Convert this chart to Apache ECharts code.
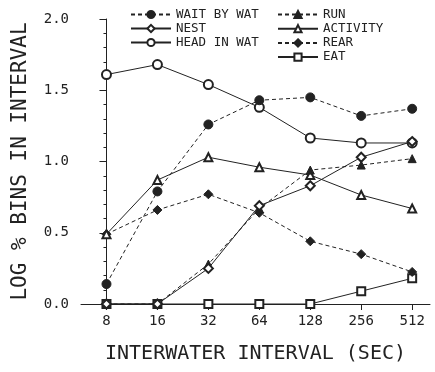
<!DOCTYPE html>
<html><head><meta charset="utf-8">
<script src="https://cdn.jsdelivr.net/npm/echarts@6/dist/echarts.min.js"></script>
<style>html,body{margin:0;padding:0;background:#fff}#c{width:435px;height:372px}</style>
</head><body><div id="c"></div>
<script>
var categories = ['8','16','32','64','128','256','512'];
var waitByWat = [0.14, 0.79, 1.26, 1.43, 1.45, 1.32, 1.37];
var nest      = [0.00, 0.00, 0.25, 0.69, 0.83, 1.03, 1.14];
var headInWat = [1.61, 1.68, 1.54, 1.38, 1.165, 1.13, 1.13];
var run       = [0.00, 0.00, 0.28, 0.67, 0.94, 0.975, 1.02];
var activity  = [0.49, 0.87, 1.03, 0.96, 0.905, 0.765, 0.67];
var rear      = [0.49, 0.66, 0.77, 0.64, 0.44, 0.35, 0.225];
var eat       = [0.00, 0.00, 0.00, 0.00, 0.00, 0.09, 0.18];
var yTicks = [0, 0.5, 1.0, 1.5, 2.0];

var FONT = 'DejaVu Sans Mono';
var INK = '#222';
function pts(arr){ return arr.map(function(v,i){ return [i, v]; }); }
function mk(name, data, symbol, dashed, size){
  return {
    name: name, type: 'line', data: pts(data), symbol: symbol, symbolSize: size || 8,
    lineStyle: {color: INK, width: 1, type: dashed ? [4,3] : 'solid'},
    itemStyle: {color: INK, borderColor: INK, borderWidth: 1},
    emphasis: {disabled: true}, animation: false
  };
}
var chart = echarts.init(document.getElementById('c'));
var legendText = {fontFamily: FONT, fontSize: 12.5, color: INK, lineHeight: 11};
chart.setOption({
  backgroundColor: '#fff',
  animation: false,
  grid: {left: 81, top: 19, right: 5, bottom: 68},
  legend: [
    {data: ['WAIT BY WAT','NEST','HEAD IN WAT'], orient: 'vertical', left: 130, top: 8, padding: 0,
     itemWidth: 40, itemHeight: 9, itemGap: 1, textStyle: legendText, selectedMode: false},
    {data: ['RUN','ACTIVITY','REAR','EAT'], orient: 'vertical', left: 277, top: 8, padding: 0,
     itemWidth: 40, itemHeight: 9, itemGap: 1.2, textStyle: legendText, selectedMode: false}
  ],
  xAxis: {
    type: 'value', min: -0.5, max: 6.35,
    name: 'INTERWATER INTERVAL (SEC)', nameLocation: 'middle', nameGap: 40,
    nameTextStyle: {fontFamily: FONT, fontSize: 20, color: INK},
    axisLine: {show: true, lineStyle: {color: INK, width: 1}},
    axisTick: {show: true, inside: false, length: 6, customValues: [0,1,2,3,4,5,6], lineStyle: {color: INK}},
    axisLabel: {customValues: [0,1,2,3,4,5,6], fontFamily: FONT, fontSize: 14, color: INK, margin: 10,
      formatter: function(v){ return categories[Math.round(v)]; }},
    splitLine: {show: false}
  },
  yAxis: {
    type: 'value', min: 0, max: 2, interval: 0.5,
    name: 'LOG % BINS IN INTERVAL', nameLocation: 'middle', nameGap: 50,
    nameTextStyle: {fontFamily: FONT, fontSize: 21, color: INK},
    axisLine: {show: true, lineStyle: {color: INK, width: 1}},
    axisTick: {show: true, length: 7, lineStyle: {color: INK}},
    minorTick: {show: true, splitNumber: 5, length: 3, lineStyle: {color: INK}},
    axisLabel: {fontFamily: FONT, fontSize: 14, color: INK, margin: 12,
      formatter: function(v){ return v.toFixed(1); }},
    splitLine: {show: false}
  },
  series: [
    mk('EAT', eat, 'emptyRect', false, 8),
    mk('REAR', rear, 'diamond', true, 9),
    mk('ACTIVITY', activity, 'emptyTriangle', false, 8),
    mk('RUN', run, 'triangle', true, 8),
    mk('HEAD IN WAT', headInWat, 'emptyCircle', false, 9),
    mk('NEST', nest, 'emptyDiamond', false, 9),
    mk('WAIT BY WAT', waitByWat, 'circle', true, 9)
  ]
});
</script></body></html>
